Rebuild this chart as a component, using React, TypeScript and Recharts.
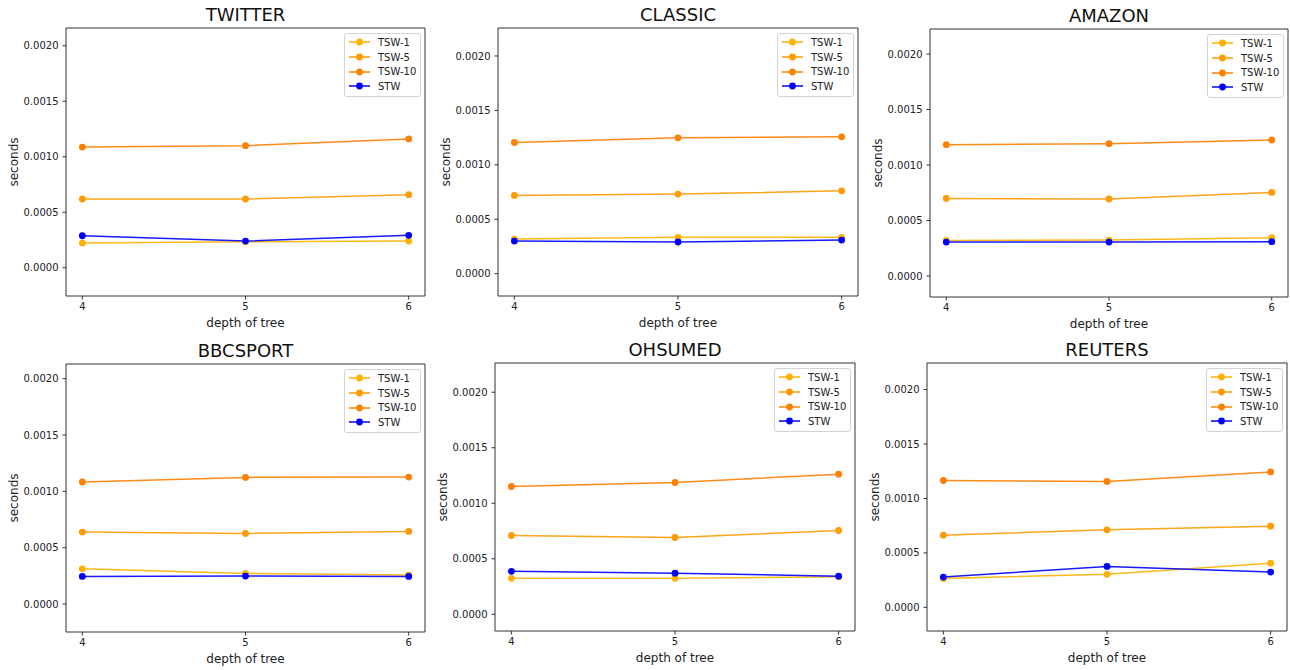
import { LineChart, Line, XAxis, YAxis, Legend, ReferenceArea, Label } from 'recharts'

const depths = [4, 5, 6]
const depthTicks = [4, 5, 6]
const secondTicks = [0, 0.0005, 0.001, 0.0015, 0.002]

const seriesNames = ['TSW-1', 'TSW-5', 'TSW-10', 'STW']
const seriesColors = ['#FFB000', '#FF9A00', '#FF8000', '#0000FF']

// values, one array per series and dataset
const twitterTsw1 = [0.000222, 0.000234, 0.00024]
const twitterTsw5 = [0.000619, 0.000619, 0.000658]
const twitterTsw10 = [0.001087, 0.0011, 0.00116]
const twitterStw = [0.000288, 0.00024, 0.000292]

const classicTsw1 = [0.000318, 0.000334, 0.000334]
const classicTsw5 = [0.000719, 0.000731, 0.000761]
const classicTsw10 = [0.001205, 0.001248, 0.001257]
const classicStw = [0.0003, 0.000291, 0.000309]

const amazonTsw1 = [0.000321, 0.000324, 0.000345]
const amazonTsw5 = [0.000699, 0.000694, 0.000753]
const amazonTsw10 = [0.001183, 0.001192, 0.001225]
const amazonStw = [0.000306, 0.000306, 0.000309]

const bbcsportTsw1 = [0.000313, 0.000272, 0.000257]
const bbcsportTsw5 = [0.000639, 0.000627, 0.000644]
const bbcsportTsw10 = [0.001083, 0.001124, 0.001127]
const bbcsportStw = [0.000245, 0.000248, 0.000245]

const ohsumedTsw1 = [0.000324, 0.000324, 0.000338]
const ohsumedTsw5 = [0.00071, 0.000692, 0.000755]
const ohsumedTsw10 = [0.001151, 0.001187, 0.001262]
const ohsumedStw = [0.000387, 0.000371, 0.000344]

const reutersTsw1 = [0.000266, 0.000303, 0.000406]
const reutersTsw5 = [0.000663, 0.000712, 0.000746]
const reutersTsw10 = [0.001165, 0.001156, 0.001244]
const reutersStw = [0.000278, 0.000376, 0.000324]

interface PanelDef {
  title: string
  series: number[][]
  domain: [number, number]
  left: number
  top: number
  w: number
  h: number
}

const panels: PanelDef[] = [
  { title: 'TWITTER', series: [twitterTsw1, twitterTsw5, twitterTsw10, twitterStw], domain: [-0.000255, 0.00216], left: 66, top: 28, w: 359, h: 268 },
  { title: 'CLASSIC', series: [classicTsw1, classicTsw5, classicTsw10, classicStw], domain: [-0.000205, 0.002257], left: 498, top: 28, w: 360, h: 268 },
  { title: 'AMAZON', series: [amazonTsw1, amazonTsw5, amazonTsw10, amazonStw], domain: [-0.000189, 0.002225], left: 930, top: 29, w: 358, h: 268 },
  { title: 'BBCSPORT', series: [bbcsportTsw1, bbcsportTsw5, bbcsportTsw10, bbcsportStw], domain: [-0.000248, 0.00213], left: 66, top: 364, w: 359, h: 268 },
  { title: 'OHSUMED', series: [ohsumedTsw1, ohsumedTsw5, ohsumedTsw10, ohsumedStw], domain: [-0.00015, 0.002263], left: 495, top: 363, w: 360, h: 268 },
  { title: 'REUTERS', series: [reutersTsw1, reutersTsw5, reutersTsw10, reutersStw], domain: [-0.000217, 0.002244], left: 927, top: 363, w: 360, h: 268 },
]

const PAD_L = 66
const PAD_T = 30
const PAD_R = 2
const PAD_B = 40
const FONT = '"DejaVu Sans", sans-serif'

function LegendBox() {
  return (
    <div
      style={{
        border: '1px solid #d4d4d4',
        borderRadius: 3,
        background: 'rgba(255,255,255,0.85)',
        padding: '1px 4px 2px 4px',
        fontSize: 10,
        color: '#222',
        fontFamily: FONT,
      }}
    >
      {seriesNames.map((name, i) => (
        <div key={name} style={{ display: 'flex', alignItems: 'center', height: 14.7 }}>
          <svg width={21} height={10} style={{ marginRight: 8 }}>
            <line x1={0} y1={5} x2={21} y2={5} stroke={seriesColors[i]} strokeWidth={1.5} />
            <circle cx={10.5} cy={5} r={3.4} fill={seriesColors[i]} />
          </svg>
          <span style={{ whiteSpace: 'nowrap' }}>{name}</span>
        </div>
      ))}
    </div>
  )
}

function Panel({ p }: { p: PanelDef }) {
  const data = depths.map((d, i) => ({
    depth: d,
    s0: p.series[0][i],
    s1: p.series[1][i],
    s2: p.series[2][i],
    s3: p.series[3][i],
  }))
  const width = PAD_L + p.w + PAD_R
  const height = PAD_T + p.h + PAD_B

  return (
    <div style={{ position: 'absolute', left: p.left - PAD_L, top: p.top - PAD_T, width, height }}>
      <div
        style={{
          position: 'absolute',
          left: PAD_L,
          width: p.w,
          top: PAD_T - 24,
          textAlign: 'center',
          fontSize: 18,
          lineHeight: '21px',
          color: '#111',
          fontFamily: FONT,
        }}
      >
        {p.title}
      </div>
      <LineChart width={width} height={height} data={data} margin={{ top: PAD_T, right: PAD_R, left: 0, bottom: 0 }}>
        <XAxis
          dataKey="depth"
          type="number"
          domain={[3.9, 6.1]}
          ticks={depthTicks}
          allowDataOverflow
          height={PAD_B}
          axisLine={false}
          tickSize={3.5}
          tickMargin={3}
          tick={{ fontSize: 10, fill: '#222' }}
          tickLine={{ stroke: '#333' }}
        >
          <Label
            content={({ viewBox }: any) => (
              <text
                x={viewBox.x + viewBox.width / 2}
                y={viewBox.y + 30.5}
                textAnchor="middle"
                fontSize={12}
                fill="#222"
              >
                depth of tree
              </text>
            )}
          />
        </XAxis>
        <YAxis
          type="number"
          domain={p.domain}
          ticks={secondTicks}
          allowDataOverflow
          width={PAD_L}
          axisLine={false}
          tickSize={3.5}
          tickMargin={4}
          tickFormatter={(v: number) => v.toFixed(4)}
          tick={{ fontSize: 10, fill: '#222' }}
          tickLine={{ stroke: '#333' }}
        >
          <Label
            content={({ viewBox }: any) => {
              const cx = viewBox.x + 18
              const cy = viewBox.y + viewBox.height / 2
              return (
                <text x={cx} y={cy} textAnchor="middle" fontSize={12} fill="#222" transform={`rotate(-90, ${cx}, ${cy})`}>
                  seconds
                </text>
              )
            }}
          />
        </YAxis>
        {seriesNames.map((name, i) => (
          <Line
            key={name}
            name={name}
            dataKey={`s${i}`}
            type="linear"
            stroke={seriesColors[i]}
            strokeOpacity={0.9}
            strokeWidth={1.5}
            dot={{ r: 3.4, fill: seriesColors[i], stroke: seriesColors[i], strokeWidth: 0 }}
            activeDot={false}
            isAnimationActive={false}
          />
        ))}
        <ReferenceArea
          x1={3.9}
          x2={6.1}
          y1={p.domain[0]}
          y2={p.domain[1]}
          fill="none"
          stroke="#333"
          strokeWidth={1}
          ifOverflow="visible"
        />
        <Legend
          layout="vertical"
          align="center"
          verticalAlign="middle"
          content={() => <LegendBox />}
          wrapperStyle={{ left: PAD_L + p.w - 81, top: PAD_T + 5, width: 'auto' }}
        />
      </LineChart>
    </div>
  )
}

export default function App() {
  return (
    <div style={{ position: 'absolute', left: 0, top: 0, width: 1290, height: 670, background: '#fff', fontFamily: FONT }}>
      {panels.map((p) => (
        <Panel key={p.title} p={p} />
      ))}
    </div>
  )
}
